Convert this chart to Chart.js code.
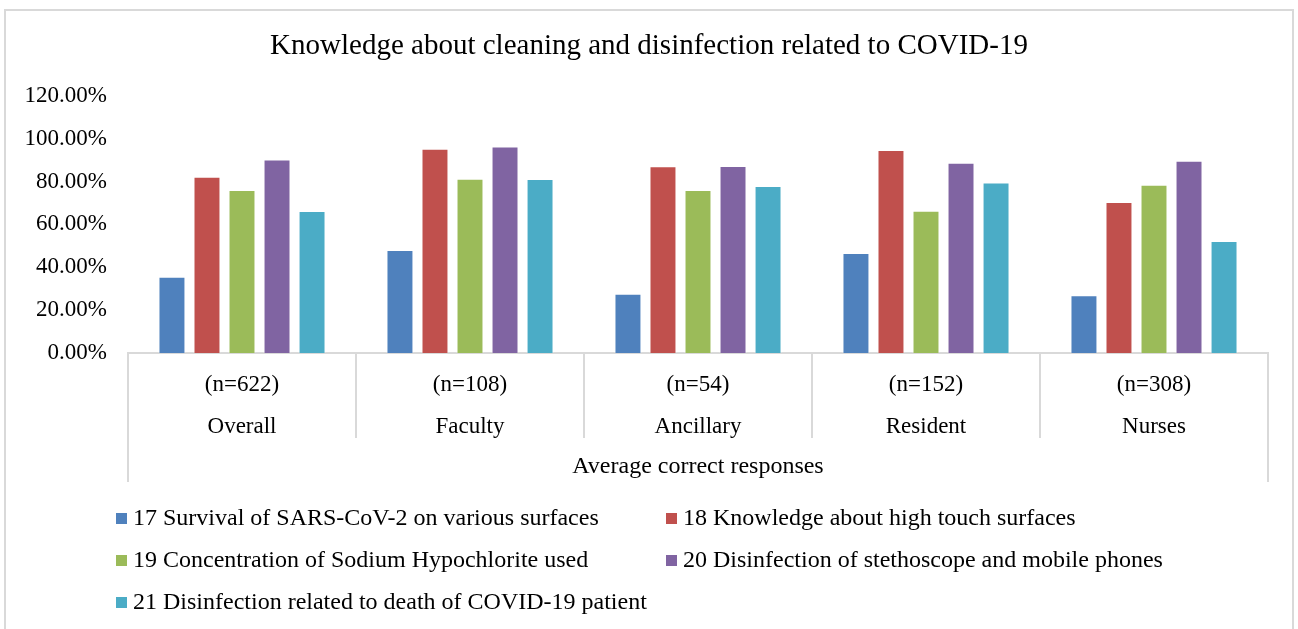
<!DOCTYPE html>
<html>
<head>
<meta charset="utf-8">
<script src="https://cdn.jsdelivr.net/npm/chart.js@4.4.1/dist/chart.umd.min.js"></script>
<style>
  html, body { margin: 0; padding: 0; background: #fff; overflow: hidden; }
  #wrap { position: relative; width: 1298px; height: 629px; overflow: hidden; }
  #frame { position: absolute; left: 4px; top: 9px; width: 1290px; height: 700px; border: 2px solid #d9d9d9; box-sizing: border-box; }
  canvas { position: absolute; left: 0; top: 0; }
  #legend { position: absolute; left: 0; top: 0; width: 1298px; height: 629px; font-family: "Liberation Serif", "Times New Roman", serif; font-size: 24px; color: #000; }
  .li { position: absolute; white-space: nowrap; line-height: 26px; }
  .li span.box { display: inline-block; width: 11px; height: 11px; margin-right: 6px; vertical-align: 1px; }
</style>
</head>
<body>
<div id="wrap">
  <div id="frame"></div>
  <canvas id="c" width="1298" height="629"></canvas>
  <div id="legend"></div>
</div>
<script>
const groups = ['(n=622)', '(n=108)', '(n=54)', '(n=152)', '(n=308)'];
const categories = ['Overall', 'Faculty', 'Ancillary', 'Resident', 'Nurses'];
const seriesNames = [
  '17 Survival of SARS-CoV-2 on various surfaces',
  '18 Knowledge about high touch surfaces',
  '19 Concentration of Sodium Hypochlorite used',
  '20 Disinfection of stethoscope and mobile phones',
  '21 Disinfection related to death of COVID-19 patient'
];
const s17 = [35.6, 48.0, 27.6, 46.6, 27.0];
const s18 = [82.2, 95.3, 87.1, 94.7, 70.4];
const s19 = [76.0, 81.3, 76.0, 66.4, 78.5];
const s20 = [90.3, 96.3, 87.2, 88.8, 89.7];
const s21 = [66.2, 81.2, 77.9, 79.6, 52.3];
const yTicks = [0, 20, 40, 60, 80, 100, 120];
const colors = ['#4F81BD', '#C0504D', '#9BBB59', '#8064A2', '#4BACC6'];
const allSeries = [s17, s18, s19, s20, s21];

const FONT = '"Liberation Serif", "Times New Roman", serif';
const GRAY = '#d9d9d9';

const labels = categories.map((c, i) => [groups[i], c]);

const outerLines = {
  id: 'outerLines',
  afterDraw(chart) {
    const x = chart.scales.x;
    const ctx = chart.ctx;
    ctx.save();
    ctx.strokeStyle = GRAY;
    ctx.lineWidth = 2;
    ctx.beginPath();
    ctx.moveTo(x.left, x.top);
    ctx.lineTo(x.left, x.bottom);
    ctx.moveTo(x.right, x.top);
    ctx.lineTo(x.right, x.bottom);
    ctx.stroke();
    ctx.restore();
  }
};

new Chart(document.getElementById('c'), {
  type: 'bar',
  data: {
    labels: labels,
    datasets: allSeries.map((d, i) => ({
      label: seriesNames[i],
      data: d,
      yAxisID: 'y',
      backgroundColor: colors[i],
      borderColor: 'rgba(255,255,255,0.55)',
      borderWidth: 1,
      categoryPercentage: 0.768,
      barPercentage: 0.77
    }))
  },
  options: {
    responsive: false,
    animation: false,
    layout: { padding: { left: 0, right: 0, top: 0, bottom: 147 } },
    plugins: {
      legend: { display: false },
      tooltip: { enabled: false },
      title: {
        display: true,
        text: 'Knowledge about cleaning and disinfection related to COVID-19',
        color: '#000',
        font: { family: FONT, size: 29, weight: 'normal', lineHeight: 1.2 },
        padding: { top: 29, bottom: 32 }
      }
    },
    scales: {
      y: {
        position: 'left',
        min: 0, max: 120,
        afterBuildTicks(scale) { scale.ticks = yTicks.map(v => ({ value: v })); },
        afterFit(scale) { scale.width = 128; },
        grid: { display: false },
        border: { display: false },
        ticks: {
          padding: 13,
          color: '#000',
          font: { family: FONT, size: 23 },
          callback: v => Number(v).toFixed(2) + '%'
        }
      },
      yRight: {
        position: 'right',
        min: 0, max: 120,
        afterFit(scale) { scale.width = 30; },
        grid: { display: false },
        border: { display: false },
        ticks: { display: false }
      },
      x: {
        afterFit(scale) { scale.height = 129; },
        grid: {
          offset: true,
          drawOnChartArea: false,
          drawTicks: true,
          tickLength: 85,
          color: GRAY,
          lineWidth: 2
        },
        border: { display: true, color: GRAY, width: 2 },
        ticks: {
          padding: -74,
          color: '#000',
          maxRotation: 0,
          autoSkip: false,
          font: { family: FONT, size: 23, lineHeight: '42px' }
        },
        title: {
          display: true,
          text: 'Average correct responses',
          color: '#000',
          font: { family: FONT, size: 24, lineHeight: 1.2 },
          padding: { top: 0, bottom: 1 }
        }
      }
    }
  },
  plugins: [outerLines]
});

// legend (two-column grid, as in the reference)
const leg = document.getElementById('legend');
const colX = [116, 666];
const rowY = [517, 559, 601];
seriesNames.forEach((name, i) => {
  const el = document.createElement('div');
  el.className = 'li';
  el.style.left = colX[i % 2] + 'px';
  el.style.top = (rowY[Math.floor(i / 2)] - 13) + 'px';
  const b = document.createElement('span');
  b.className = 'box';
  b.style.background = colors[i];
  el.appendChild(b);
  el.appendChild(document.createTextNode(name));
  leg.appendChild(el);
});
</script>
</body>
</html>
